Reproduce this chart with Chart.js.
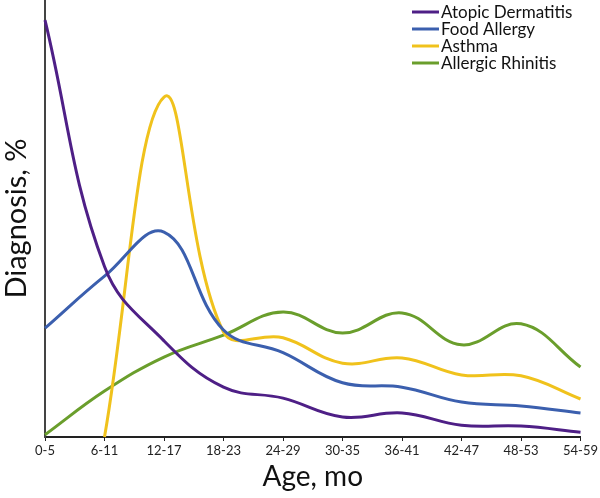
<!DOCTYPE html>
<html lang="en">
<head>
    <meta charset="UTF-8">
    <title>Diagnosis by age</title>
    <script src="https://cdn.jsdelivr.net/npm/chart.js"></script>
    <style>
        html, body { margin: 0; padding: 0; background: #fff; }
        .grafico { width: 600px; height: 498px; }
    </style>
</head>
<body>
    <div class="grafico">
        <canvas id="myChart"></canvas>
    </div>
<script>
    // categorias do eixo x
    var faixasIdade = ['0-5', '6-11', '12-17', '18-23', '24-29', '30-35', '36-41', '42-47', '48-53', '54-59']

    // valores (escala relativa 0-100)
    var dermatite = [95.4, 39.0, 22.0, 11.4, 8.9, 4.6, 5.5, 2.7, 2.5, 1.1]
    var alergiaAlimentar = [24.9, 36.8, 46.9, 24.5, 19.3, 12.4, 11.4, 8.0, 7.1, 5.5]
    var asma = [null, 0, 77.8, 24.0, 22.7, 16.9, 18.1, 14.2, 14.0, 8.7]
    var rinite = [0.5, 10.5, 18.3, 23.3, 28.6, 23.8, 28.4, 21.1, 25.9, 16.0]

    var fonte = 'Lato, "Open Sans", sans-serif'

    // legenda desenhada dentro da area do grafico, canto superior direito
    var legendaCanto = {
        id: 'legendaCanto',
        afterDraw(chart) {
            var c = chart.ctx
            c.save()
            c.font = '17px ' + fonte
            c.textBaseline = 'middle'
            c.textAlign = 'left'
            chart.data.datasets.forEach((ds, i) => {
                var y = 12 + i * 17
                c.strokeStyle = ds.borderColor
                c.lineWidth = 3
                c.beginPath()
                c.moveTo(412, y)
                c.lineTo(439, y)
                c.stroke()
                c.fillStyle = '#111'
                c.fillText(ds.label, 441, y + 1)
            })
            c.restore()
        }
    }

    function serie(label, dados, cor) {
        return {
            label: label,
            data: dados,
            borderColor: cor,
            backgroundColor: cor,
            borderWidth: 3,
            pointRadius: 0,
            tension: 0.4,
            clip: false
        }
    }

    const ctx = document.getElementById('myChart');

    new Chart(ctx, {
        type: 'line',
        data: {
            labels: faixasIdade,
            datasets: [
                serie('Atopic Dermatitis', dermatite, '#4e1f86'),
                serie('Food Allergy', alergiaAlimentar, '#3b5fae'),
                serie('Asthma', asma, '#f0c21c'),
                serie('Allergic Rhinitis', rinite, '#6a9e2c')
            ]
        },
        options: {
            responsive: true,
            maintainAspectRatio: false,
            animation: false,
            layout: { padding: { top: 0, right: 0, bottom: 0, left: 0 } },
            plugins: {
                legend: { display: false },
                tooltip: { enabled: false }
            },
            scales: {
                x: {
                    offset: false,
                    afterFit(scale) { scale.height = 61 },
                    grid: {
                        display: true,
                        drawOnChartArea: false,
                        drawTicks: true,
                        tickLength: 4,
                        color: '#222'
                    },
                    border: { display: true, color: '#222', width: 2 },
                    ticks: {
                        color: '#222',
                        padding: 2,
                        maxRotation: 0,
                        autoSkip: false,
                        font: { family: fonte, size: 13 }
                    },
                    title: {
                        display: true,
                        text: 'Age, mo',
                        color: '#111',
                        padding: { top: 0, bottom: 4 },
                        font: { family: fonte, size: 28 }
                    }
                },
                y: {
                    min: 0,
                    max: 100,
                    afterFit(scale) { scale.width = 45 },
                    grid: { display: false },
                    border: { display: true, color: '#444', width: 2 },
                    ticks: { display: false },
                    title: {
                        display: true,
                        text: 'Diagnosis, %',
                        color: '#111',
                        padding: { top: -1, bottom: 0 },
                        font: { family: fonte, size: 29 }
                    }
                }
            }
        },
        plugins: [legendaCanto]
    });
</script>
</body>
</html>
